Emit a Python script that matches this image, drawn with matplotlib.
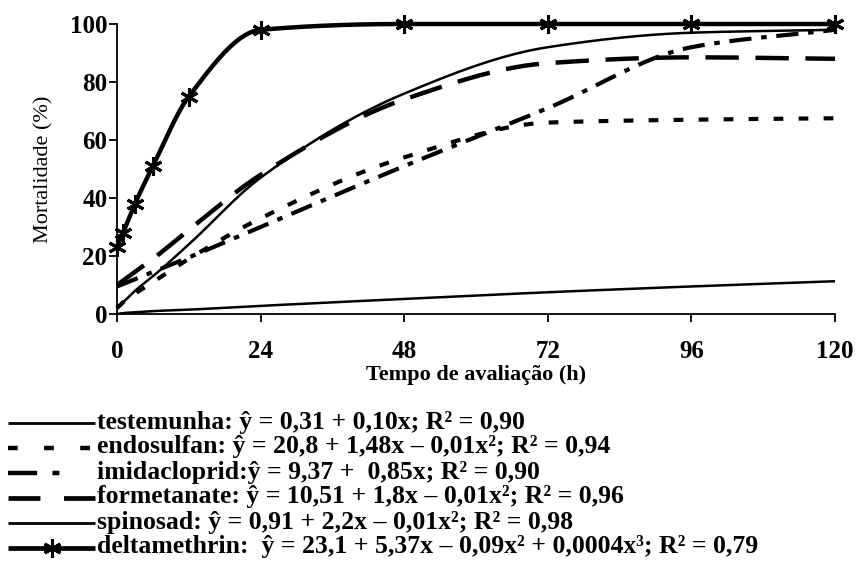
import numpy as np
import matplotlib
matplotlib.use("Agg")
import matplotlib.pyplot as plt
from matplotlib.lines import Line2D

plt.rcParams["font.family"] = ["Liberation Serif", "DejaVu Serif"]
plt.rcParams["lines.scale_dashes"] = False

# data (hours after application, % mortality)
hours = [0, 1, 3, 6, 12, 24, 48, 72, 96, 120]
testemunha = [0, 0.3, 0.6, 1.0, 1.5, 2.8, 5.2, 7.5, 9.5, 11.3]
endosulfan = [2, 4, 7, 11, 19, 33, 54, 66, 67, 67.5]
imidacloprid = [9.5, 10.3, 12, 14.5, 19.5, 30, 51, 71, 92, 98]
formetanate = [10, 11.5, 14.5, 19, 29, 48, 74, 86.5, 88.5, 88]
spinosad = [2, 4, 8, 13, 24, 47, 76, 92, 97, 98]
deltamethrin = [23, 28, 38, 51, 75, 98, 100, 100, 100, 100]

labels = [
    "testemunha: ŷ = 0,31 + 0,10x; R² = 0,90",
    "endosulfan: ŷ = 20,8 + 1,48x – 0,01x²; R² = 0,94",
    "imidacloprid:ŷ = 9,37 +  0,85x; R² = 0,90",
    "formetanate: ŷ = 10,51 + 1,8x – 0,01x²; R² = 0,96",
    "spinosad: ŷ = 0,91 + 2,2x – 0,01x²; R² = 0,98",
    "deltamethrin:  ŷ = 23,1 + 5,37x – 0,09x² + 0,0004x³; R² = 0,79",
]
series = [testemunha, endosulfan, imidacloprid, formetanate, spinosad, deltamethrin]

# line styles in the chart (dash patterns in points)
styles = [
    dict(lw=1.8, ls="-"),
    dict(lw=3.0, ls=(0, (7, 11))),
    dict(lw=3.0, ls=(0, (16, 7, 4, 7))),
    dict(lw=3.2, ls=(0, (24, 12))),
    dict(lw=1.8, ls="-"),
    dict(lw=3.2, ls="-"),
]
# the legend samples are drawn a little longer
leg_styles = [
    dict(lw=2.0, ls="-"),
    dict(lw=3.2, ls=(0, (7, 19))),
    dict(lw=3.2, ls=(0, (21, 11, 5, 100))),
    dict(lw=3.4, ls=(0, (23, 17))),
    dict(lw=2.0, ls="-"),
    dict(lw=3.4, ls="-"),
]


def smooth(x, y, n=500):
    # monotone cubic hermite, only used to draw the smoothed curve
    x = np.asarray(x, float)
    y = np.asarray(y, float)
    h = np.diff(x)
    d = np.diff(y) / h
    m = np.zeros_like(y)
    m[0], m[-1] = d[0], d[-1]
    for i in range(1, len(x) - 1):
        if d[i - 1] * d[i] <= 0:
            m[i] = 0
        else:
            w1 = 2 * h[i] + h[i - 1]
            w2 = h[i] + 2 * h[i - 1]
            m[i] = (w1 + w2) / (w1 / d[i - 1] + w2 / d[i])
    xs = np.linspace(x[0], x[-1], n)
    idx = np.clip(np.searchsorted(x, xs) - 1, 0, len(x) - 2)
    t = (xs - x[idx]) / h[idx]
    h00 = 2 * t**3 - 3 * t**2 + 1
    h10 = t**3 - 2 * t**2 + t
    h01 = -2 * t**3 + 3 * t**2
    h11 = t**3 - t**2
    ys = h00 * y[idx] + h10 * h[idx] * m[idx] + h01 * y[idx + 1] + h11 * h[idx] * m[idx + 1]
    return xs, ys


W, H = 856, 584
fig = plt.figure(figsize=(W / 100, H / 100), dpi=100)
ax = fig.add_axes([117 / W, 1 - 314 / H, 718 / W, 290 / H])

for vals, st in zip(series, styles):
    xs, ys = smooth(hours, vals)
    ax.plot(xs, ys, color="black", solid_capstyle="butt", dash_capstyle="butt",
            clip_on=False, **st)
ax.plot(hours, deltamethrin, ls="none", marker=(6, 2, 0), ms=13, mew=2.2,
        color="black", clip_on=False)

ax.set_xlim(0, 120)
ax.set_ylim(0, 100)
ax.set_xticks([0, 24, 48, 72, 96, 120])
ax.set_yticks([0, 20, 40, 60, 80, 100])
for s in ["top", "right"]:
    ax.spines[s].set_visible(False)
for s in ["left", "bottom"]:
    ax.spines[s].set_linewidth(1.3)
ax.tick_params(axis="both", direction="out", length=6, width=1.3, labelsize=18)
ax.tick_params(axis="x", pad=13)
ax.tick_params(axis="y", pad=1)
for lab in ax.get_xticklabels() + ax.get_yticklabels():
    lab.set_fontweight("bold")

ax.set_ylabel("Mortalidade (%)", fontsize=16, labelpad=12)
ax.set_xlabel("Tempo de avaliação (h)", fontsize=16, fontweight="bold", labelpad=1)

# legend below the chart, built by hand in pixel coordinates
lax = fig.add_axes([0, 0, 1, 1])
lax.set_xlim(0, W)
lax.set_ylim(H, 0)
lax.axis("off")
row_y = 422
step = 25
for lab, st in zip(labels, leg_styles):
    lax.add_line(Line2D([8, 95], [row_y + 1, row_y + 1], color="black",
                        solid_capstyle="butt", dash_capstyle="butt", **st))
    lax.text(97, row_y, lab, fontsize=18.5, fontweight="bold", ha="left", va="center")
    row_y += step
lax.plot([52], [row_y - step + 1], ls="none", marker=(6, 2, 0), ms=13, mew=2.2, color="black")

fig.savefig("out.png", dpi=100)
